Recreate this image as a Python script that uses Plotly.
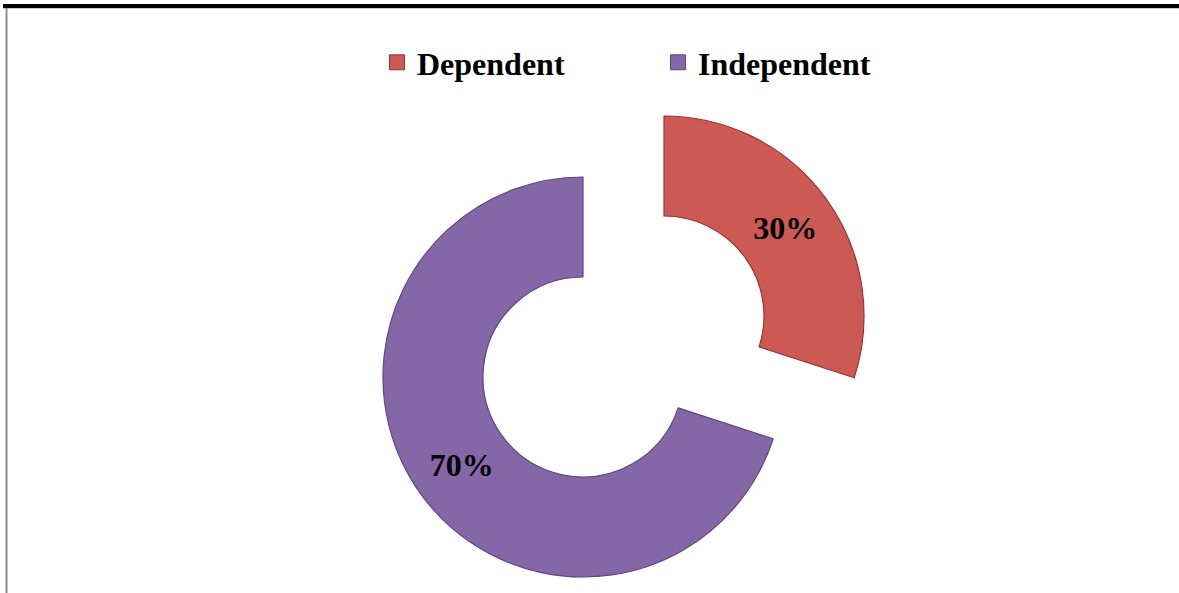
import plotly.graph_objects as go

# Data
categories = ["Dependent", "Independent"]
shares = [30, 70]
slice_colors = ["#CD5955", "#8567A8"]
edge_colors = ["#9A3431", "#5E4680"]

W, H = 1179, 593
R = 200          # outer radius in px
HOLE = 0.5
TRANSPARENT = "rgba(0,0,0,0)"

# ring centres (px from top-left): the Dependent wedge is exploded outwards
centres = {"Dependent": (664, 316), "Independent": (583, 377)}


def domain_for(cx, cy):
    return dict(x=[(cx - R) / W, (cx + R) / W],
                y=[1 - (cy + R) / H, 1 - (cy - R) / H])


fig = go.Figure()

for i, name in enumerate(categories):
    cols = [slice_colors[j] if j == i else TRANSPARENT for j in range(len(categories))]
    lines = [edge_colors[j] if j == i else TRANSPARENT for j in range(len(categories))]
    tmpl = ["%{percent:.0%}" if j == i else "" for j in range(len(categories))]
    cx, cy = centres[name]
    fig.add_trace(go.Pie(
        labels=categories,
        values=shares,
        sort=False,
        direction="clockwise",
        rotation=0,
        hole=HOLE,
        domain=domain_for(cx, cy),
        marker=dict(colors=cols, line=dict(color=lines, width=1.2)),
        texttemplate=tmpl,
        textposition="inside",
        insidetextorientation="horizontal",
        insidetextfont=dict(family="Liberation Serif", size=32, color="black", weight="bold"),
        showlegend=False,
        hoverinfo="label+percent",
    ))

# legend entries
for name, col, edge in zip(categories, slice_colors, edge_colors):
    fig.add_trace(go.Scatter(
        x=[None], y=[None], mode="markers", name=name,
        marker=dict(symbol="square", size=15, color=col, line=dict(color=edge, width=1)),
    ))

fig.update_layout(
    width=W, height=H,
    margin=dict(l=0, r=0, t=0, b=0),
    paper_bgcolor="white",
    plot_bgcolor="white",
    xaxis=dict(visible=False),
    yaxis=dict(visible=False),
    legend=dict(
        orientation="h",
        x=377 / W, xanchor="left",
        y=1 - 35 / H, yanchor="top",
        entrywidth=236,
        font=dict(family="Liberation Serif", size=32, color="black", weight="bold"),
        bgcolor="rgba(0,0,0,0)",
    ),
    shapes=[
        dict(type="line", xref="paper", yref="paper",
             x0=3 / W, x1=1, y0=1 - 6 / H, y1=1 - 6 / H,
             line=dict(color="black", width=4)),
        dict(type="line", xref="paper", yref="paper",
             x0=3 / W, x1=1, y0=1 - 8.5 / H, y1=1 - 8.5 / H,
             line=dict(color="#c8c8c8", width=1)),
        dict(type="line", xref="paper", yref="paper",
             x0=6.5 / W, x1=6.5 / W, y0=0, y1=1 - 8 / H,
             line=dict(color="#8c8c8c", width=2)),
    ],
)

fig.write_html("out.html")
